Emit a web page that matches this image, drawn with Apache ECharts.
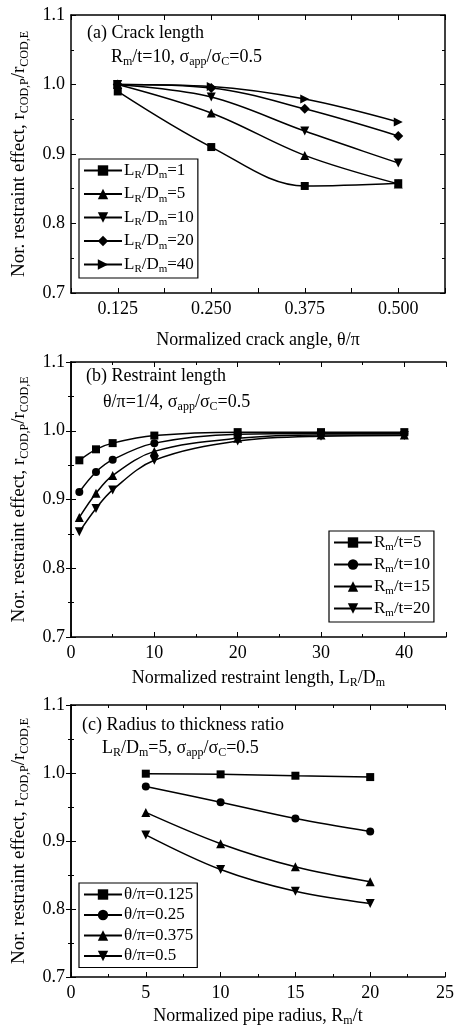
<!DOCTYPE html>
<html>
<head>
<meta charset="utf-8">
<script src="https://cdn.jsdelivr.net/npm/echarts@6/dist/echarts.min.js"></script>
<style>
  html, body { margin: 0; padding: 0; background: #fff; }
  #chart { width: 460px; height: 1036px; }
</style>
</head>
<body>
<div id="chart"></div>
<script>
// (a) crack length
const crackAngle = [0.125, 0.25, 0.375, 0.5];
const crackLD1 = [0.990, 0.910, 0.854, 0.858];
const crackLD5 = [1.000, 0.959, 0.898, 0.857];
const crackLD10 = [1.000, 0.982, 0.933, 0.887];
const crackLD20 = [1.000, 0.995, 0.965, 0.926];
const crackLD40 = [1.000, 0.997, 0.979, 0.946];
const crackTicks = [0.125, 0.25, 0.375, 0.5];

// (b) restraint length
const restraintLen = [1, 3, 5, 10, 20, 30, 40];
const restRt5 = [0.957, 0.973, 0.982, 0.993, 0.998, 0.998, 0.998];
const restRt10 = [0.911, 0.940, 0.958, 0.982, 0.995, 0.996, 0.996];
const restRt15 = [0.874, 0.909, 0.935, 0.970, 0.989, 0.994, 0.994];
const restRt20 = [0.853, 0.887, 0.914, 0.957, 0.985, 0.992, 0.993];

// (c) radius to thickness
const pipeRadius = [5, 10, 15, 20];
const radTh0125 = [0.999, 0.998, 0.996, 0.994];
const radTh025 = [0.980, 0.957, 0.933, 0.914];
const radTh0375 = [0.942, 0.896, 0.862, 0.840];
const radTh05 = [0.909, 0.858, 0.826, 0.808];

const SERIF = '"Liberation Serif", "Times New Roman", serif';
const triDown = 'path://M0,0 L10,0 L5,9 Z';
const triRight = 'path://M0,0 L9,5 L0,10 Z';

function rich(size, sub) {
  return {
    n: { fontFamily: SERIF, fontSize: size, fontWeight: 'normal', color: '#000', lineHeight: size + 4 },
    s: { fontFamily: SERIF, fontSize: sub, fontWeight: 'normal', color: '#000', lineHeight: sub - 2, verticalAlign: 'bottom' }
  };
}

const grids = [
  { left: 71, top: 15, width: 374, height: 278 },
  { left: 71, top: 362, width: 375, height: 275 },
  { left: 71, top: 705, width: 374, height: 272 }
];

function mainX(gi, min, max, interval, fmt, nameText, nameGap) {
  return {
    type: 'value', gridIndex: gi, position: 'bottom', min: min, max: max, interval: interval,
    axisLine: { lineStyle: { color: '#000', width: 1.5 } },
    axisTick: { inside: true, length: 5, lineStyle: { color: '#000' } },
    minorTick: { show: gi !== 0, splitNumber: 2, length: 3, lineStyle: { color: '#000' } },
    splitLine: { show: false },
    axisLabel: { formatter: fmt, fontFamily: SERIF, fontSize: 18, color: '#000', margin: 7 },
    name: nameText, nameLocation: 'middle', nameGap: nameGap,
    nameTextStyle: { rich: rich(18, 12) }
  };
}
function topX(gi, min, max, interval) {
  return {
    type: 'value', gridIndex: gi, position: 'top', min: min, max: max, interval: interval,
    axisLine: { lineStyle: { color: '#000', width: 1.5 } },
    axisTick: { inside: true, length: 5, lineStyle: { color: '#000' } },
    minorTick: { show: gi !== 0, splitNumber: 2, length: 3, lineStyle: { color: '#000' } },
    splitLine: { show: false }, axisLabel: { show: false }
  };
}
function mainY(gi) {
  return {
    type: 'value', gridIndex: gi, position: 'left', min: 0.7, max: 1.1, interval: 0.1,
    axisLine: { show: true, lineStyle: { color: '#000', width: 1.5 } },
    axisTick: { show: true, inside: true, length: 5, lineStyle: { color: '#000' } },
    minorTick: { show: true, splitNumber: 2, length: 3, lineStyle: { color: '#000' } },
    splitLine: { show: false },
    axisLabel: { formatter: v => v.toFixed(1), fontFamily: SERIF, fontSize: 18, color: '#000', margin: 6 },
    name: '{n|Nor. restraint effect, r}{s|COD,P}{n|/r}{s|COD,E}',
    nameLocation: 'middle', nameGap: 40, nameRotate: 90,
    nameTextStyle: { rich: rich(19, 12) }
  };
}
function rightY(gi) {
  return {
    type: 'value', gridIndex: gi, position: 'right', min: 0.7, max: 1.1, interval: 0.1,
    axisLine: { show: true, lineStyle: { color: '#000', width: 1.5 } },
    axisTick: { show: true, inside: true, length: 5, lineStyle: { color: '#000' } },
    minorTick: { show: true, splitNumber: 2, length: 3, lineStyle: { color: '#000' } },
    splitLine: { show: false }, axisLabel: { show: false }
  };
}

function line(name, xs, ys, gi, symbol, size) {
  return {
    name: name, type: 'line', xAxisIndex: gi * 2, yAxisIndex: gi * 2,
    data: xs.map((x, i) => [x, ys[i]]),
    smooth: 0.35, symbol: symbol, symbolSize: size,
    lineStyle: { color: '#000', width: 1.5 },
    itemStyle: { color: '#000' }
  };
}

const legendLabels = {
  'LD1': '{n|L}{s|R}{n|/D}{s|m}{n|=1}',
  'LD5': '{n|L}{s|R}{n|/D}{s|m}{n|=5}',
  'LD10': '{n|L}{s|R}{n|/D}{s|m}{n|=10}',
  'LD20': '{n|L}{s|R}{n|/D}{s|m}{n|=20}',
  'LD40': '{n|L}{s|R}{n|/D}{s|m}{n|=40}',
  'RT5': '{n|R}{s|m}{n|/t=5}',
  'RT10': '{n|R}{s|m}{n|/t=10}',
  'RT15': '{n|R}{s|m}{n|/t=15}',
  'RT20': '{n|R}{s|m}{n|/t=20}',
  'TH0125': '{n|θ/π=0.125}',
  'TH025': '{n|θ/π=0.25}',
  'TH0375': '{n|θ/π=0.375}',
  'TH05': '{n|θ/π=0.5}'
};

function legend(names, pos, gap) {
  return Object.assign({
    orient: 'vertical', data: names,
    borderColor: '#000', borderWidth: 1.2, borderRadius: 0,
    padding: [3, 4, 3, 4], itemGap: gap, itemWidth: 38, itemHeight: 13,
    formatter: n => legendLabels[n],
    textStyle: { rich: rich(17, 11), padding: [0, 0, 0, -3] }
  }, pos);
}

function note(text, left, top) {
  return { text: text, left: left, top: top, padding: 0, textStyle: { fontWeight: 'normal', rich: rich(18, 12) } };
}

const chart = echarts.init(document.getElementById('chart'));
chart.setOption({
  backgroundColor: '#fff',
  animation: false,
  grid: grids,
  title: [
    note('{n|(a) Crack length}', 87, 22),
    note('{n|R}{s|m}{n|/t=10, σ}{s|app}{n|/σ}{s|C}{n|=0.5}', 111, 46),
    note('{n|(b) Restraint length}', 86, 365),
    note('{n|θ/π=1/4, σ}{s|app}{n|/σ}{s|C}{n|=0.5}', 103, 391),
    note('{n|(c) Radius to thickness ratio}', 82, 714),
    note('{n|L}{s|R}{n|/D}{s|m}{n|=5, σ}{s|app}{n|/σ}{s|C}{n|=0.5}', 102, 737)
  ],
  legend: [
    legend(['LD1', 'LD5', 'LD10', 'LD20', 'LD40'], { left: 79, top: 159 }, 4.5),
    legend(['RT5', 'RT10', 'RT15', 'RT20'], { left: 329, top: 531 }, 3),
    legend(['TH0125', 'TH025', 'TH0375', 'TH05'], { left: 79, top: 883 }, 3.5)
  ],
  xAxis: [
    mainX(0, 0.0625, 0.5625, 0.0625,
      v => (crackTicks.indexOf(v) >= 0 ? v.toFixed(3) : ''),
      '{n|Normalized crack angle, θ/π}', 36),
    topX(0, 0.0625, 0.5625, 0.0625),
    mainX(1, 0, 45, 10, v => (v <= 40 ? String(v) : ''),
      '{n|Normalized restraint length, L}{s|R}{n|/D}{s|m}', 30),
    topX(1, 0, 45, 10),
    mainX(2, 0, 25, 5, v => String(v),
      '{n|Normalized pipe radius, R}{s|m}{n|/t}', 28),
    topX(2, 0, 25, 5)
  ],
  yAxis: [mainY(0), rightY(0), mainY(1), rightY(1), mainY(2), rightY(2)],
  series: [
    line('LD1', crackAngle, crackLD1, 0, 'rect', 8),
    line('LD5', crackAngle, crackLD5, 0, 'triangle', 9),
    line('LD10', crackAngle, crackLD10, 0, triDown, 9),
    line('LD20', crackAngle, crackLD20, 0, 'diamond', 10),
    line('LD40', crackAngle, crackLD40, 0, triRight, 9),

    line('RT5', restraintLen, restRt5, 1, 'rect', 8),
    line('RT10', restraintLen, restRt10, 1, 'circle', 8),
    line('RT15', restraintLen, restRt15, 1, 'triangle', 9),
    line('RT20', restraintLen, restRt20, 1, triDown, 9),

    line('TH0125', pipeRadius, radTh0125, 2, 'rect', 8),
    line('TH025', pipeRadius, radTh025, 2, 'circle', 8),
    line('TH0375', pipeRadius, radTh0375, 2, 'triangle', 9),
    line('TH05', pipeRadius, radTh05, 2, triDown, 9)
  ]
});
</script>
</body>
</html>
